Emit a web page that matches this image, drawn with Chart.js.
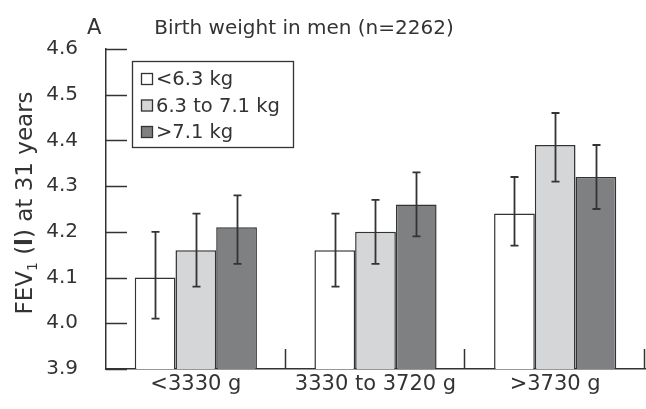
<!DOCTYPE html>
<html><head><meta charset="utf-8">
<style>html,body{margin:0;padding:0;background:#fff}#wrap{width:646px;height:409px}</style>
<script src="https://cdn.jsdelivr.net/npm/chart.js@4.4.1/dist/chart.umd.min.js"></script>
</head><body><div id="wrap"><canvas id="c" width="646" height="409"></canvas></div>
<script>
const categories = ['<3330 g', '3330 to 3720 g', '>3730 g'];
const seriesLabels = ['<6.3 kg', '6.3 to 7.1 kg', '>7.1 kg'];
const lowSeries = [4.10, 4.16, 4.24];
const midSeries = [4.16, 4.20, 4.39];
const highSeries = [4.21, 4.26, 4.32];
const lowErr = [[4.01, 4.20], [4.08, 4.24], [4.17, 4.32]];
const midErr = [[4.08, 4.24], [4.13, 4.27], [4.31, 4.46]];
const highErr = [[4.13, 4.28], [4.19, 4.33], [4.25, 4.39]];
const yTicks = [3.9, 4.0, 4.1, 4.2, 4.3, 4.4, 4.5, 4.6];
const panelLetter = 'A';
const titleText = 'Birth weight in men (n=2262)';

const INK = '#333333';
const FONT = '"DejaVu Sans", sans-serif';
const fills = ['#ffffff', '#d5d6d8', '#7f8082'];
const errs = [lowErr, midErr, highErr];

const extras = {
  id: 'extras',
  afterDatasetsDraw(chart) {
    const ctx = chart.ctx, ca = chart.chartArea;
    const y = chart.scales.y, x = chart.scales.x;
    ctx.save();
    ctx.strokeStyle = INK; ctx.lineWidth = 1.8;
    // error bars
    chart.data.datasets.forEach((ds, di) => {
      const meta = chart.getDatasetMeta(di);
      meta.data.forEach((bar, i) => {
        const [lo, hi] = errs[di][i];
        const px = Math.round(bar.x) + 0.5, yl = y.getPixelForValue(lo), yh = y.getPixelForValue(hi);
        ctx.beginPath();
        ctx.moveTo(px, yl); ctx.lineTo(px, yh);
        ctx.moveTo(px - 4, yl); ctx.lineTo(px + 4, yl);
        ctx.moveTo(px - 4, yh); ctx.lineTo(px + 4, yh);
        ctx.stroke();
      });
    });
    // inward y ticks
    ctx.lineWidth = 1.5;
    yTicks.forEach(v => {
      const py = Math.round(y.getPixelForValue(v)) + 0.5;
      ctx.beginPath(); ctx.moveTo(ca.left, py); ctx.lineTo(ca.left + 21, py); ctx.stroke();
    });
    // category separators
    const w = x.getPixelForValue(1) - x.getPixelForValue(0);
    for (let i = 0; i < categories.length; i++) {
      const px = Math.round(x.getPixelForValue(i) + w / 2) - 0.5;
      ctx.beginPath(); ctx.moveTo(px, ca.bottom); ctx.lineTo(px, ca.bottom - 20); ctx.stroke();
    }
    // legend
    ctx.lineWidth = 1.3;
    ctx.fillStyle = '#fff';
    ctx.fillRect(132, 61, 162, 87);
    ctx.strokeRect(132.5, 61.5, 161, 86);
    ctx.font = '19.5px ' + FONT; ctx.textBaseline = 'middle'; ctx.textAlign = 'left';
    chart.data.datasets.forEach((ds, di) => {
      const cy = 79 + di * 26.5;
      ctx.fillStyle = ds.backgroundColor;
      ctx.fillRect(141, cy - 6, 12, 12);
      ctx.strokeRect(141.5, cy - 5.5, 11, 11);
      ctx.fillStyle = INK;
      ctx.fillText(ds.label, 156, cy + 1);
    });
    // title
    ctx.fillStyle = INK; ctx.font = '21px ' + FONT; ctx.textBaseline = 'alphabetic';
    ctx.fillText(panelLetter, 87, 34);
    ctx.textAlign = 'center';
    ctx.font = '20px ' + FONT;
    ctx.fillText(titleText, 304, 34);
    // y axis title
    ctx.translate(32, 203); ctx.rotate(-Math.PI / 2);
    const parts = [
      ['FEV', '23px ' + FONT, 0],
      ['1', '14px ' + FONT, 5],
      [' (', '23px ' + FONT, 0],
      ['l', 'bold 23px ' + FONT, 0],
      [') at 31 years', '23px ' + FONT, 0]
    ];
    let total = 0;
    parts.forEach(p => { ctx.font = p[1]; total += ctx.measureText(p[0]).width; });
    let cx = -total / 2;
    ctx.textAlign = 'left';
    parts.forEach(p => { ctx.font = p[1]; ctx.fillText(p[0], cx, p[2]); cx += ctx.measureText(p[0]).width; });
    ctx.restore();
  }
};

new Chart(document.getElementById('c'), {
  type: 'bar',
  data: {
    labels: categories,
    datasets: [lowSeries, midSeries, highSeries].map((d, i) => ({
      label: seriesLabels[i], data: d, backgroundColor: fills[i],
      borderColor: INK, borderWidth: 1.5, borderSkipped: 'bottom'
    }))
  },
  options: {
    responsive: false, animation: false, devicePixelRatio: 1,
    layout: { padding: { top: 49, right: 1, left: 0, bottom: 0 } },
    plugins: { legend: { display: false }, tooltip: { enabled: false } },
    datasets: { bar: { categoryPercentage: 0.68, barPercentage: 1.0 } },
    scales: {
      x: {
        grid: { display: false, drawTicks: false },
        border: { color: INK, width: 1.5 },
        ticks: { color: INK, font: { family: FONT, size: 21 }, padding: 3 },
        afterFit(s) { s.height = 38; }
      },
      y: {
        min: 3.9, max: 4.6,
        afterBuildTicks(s) { s.ticks = yTicks.map(v => ({ value: v })); },
        grid: { display: false, drawTicks: false },
        border: { color: INK, width: 1.5 },
        ticks: { color: INK, font: { family: FONT, size: 20 }, padding: 28,
                 callback: v => Number(v).toFixed(1) },
        afterFit(s) { s.width = 106; }
      }
    }
  },
  plugins: [extras]
});
</script></body></html>
